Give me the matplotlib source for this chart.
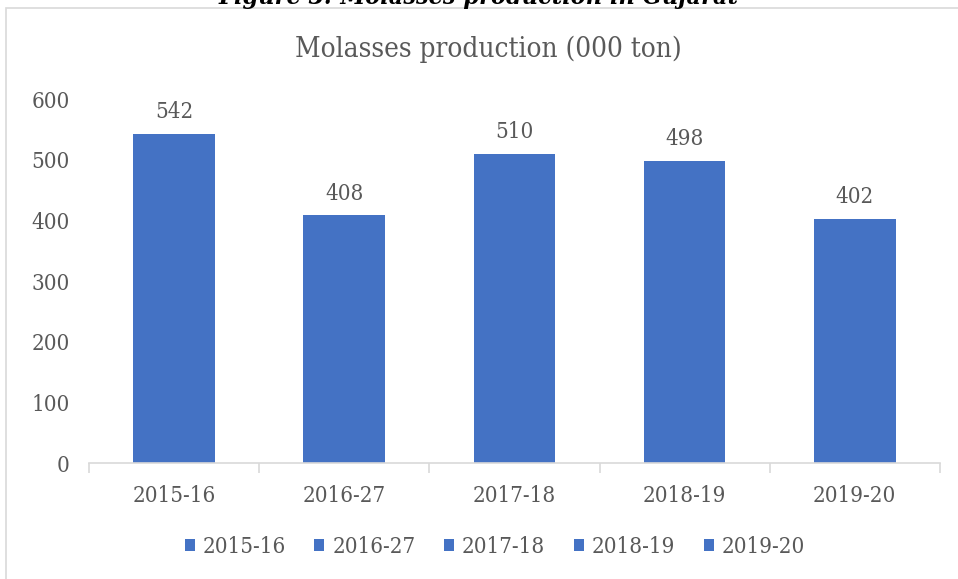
import matplotlib.pyplot as plt
from matplotlib.patches import Rectangle

years = ["2015-16", "2016-27", "2017-18", "2018-19", "2019-20"]
production = [542, 408, 510, 498, 402]

bar_color = "#4472C4"
text_color = "#595959"
axis_color = "#D9D9D9"


def main() -> None:
    plt.rcParams["font.family"] = ["DejaVu Serif"]
    plt.rcParams["font.stretch"] = "condensed"

    fig = plt.figure(figsize=(9.58, 5.79), dpi=100)
    ax = fig.add_axes([0.093, 0.2003, 0.888, 0.6287])

    # chart frame (Excel style), clipped by the figure edge on right/bottom
    fig.patches.append(Rectangle((0.006, -0.05), 1.2, 1.036, transform=fig.transFigure,
                                 fill=False, edgecolor=axis_color, linewidth=1.2))

    # clipped caption at the very top
    fig.text(0.5, 1 - 4 / 579, "Figure 3: Molasses production in Gujarat",
             ha="center", va="baseline", fontsize=18, fontweight="bold",
             style="italic", color="black")

    fig.text(0.51, 1 - 49 / 579, "Molasses production (000 ton)", ha="center",
             va="center", fontsize=20, color=text_color)

    x = list(range(len(years)))
    for i, (yr, val) in enumerate(zip(years, production)):
        ax.bar(i, val, width=0.48, color=bar_color, label=yr)
        ax.text(i, val + 18, str(val), ha="center", va="bottom",
                fontsize=16, color=text_color)

    ax.set_xlim(-0.5, len(years) - 0.5)
    ax.set_ylim(0, 600)
    ax.set_yticks(range(0, 601, 100))
    ax.set_xticks(x)
    ax.set_xticklabels(years)
    ax.tick_params(axis="y", length=0, labelsize=16, labelcolor=text_color, pad=14)
    ax.tick_params(axis="x", length=0, labelsize=16, labelcolor=text_color, pad=16)
    ax.set_xticks([i - 0.5 for i in range(len(years) + 1)], minor=True)
    ax.tick_params(axis="x", which="minor", length=7, color=axis_color, width=1.2)

    for side in ["top", "right", "left"]:
        ax.spines[side].set_visible(False)
    ax.spines["bottom"].set_color(axis_color)
    ax.spines["bottom"].set_linewidth(1.2)

    ax.legend(loc="center", bbox_to_anchor=(0.477, -0.23), ncol=5, frameon=False,
              fontsize=16, labelcolor=text_color, handlelength=0.45,
              handleheight=0.45, handletextpad=0.35, columnspacing=1.3)

    plt.savefig("out.png", dpi=100)
    plt.close()


if __name__ == "__main__":
    main()
